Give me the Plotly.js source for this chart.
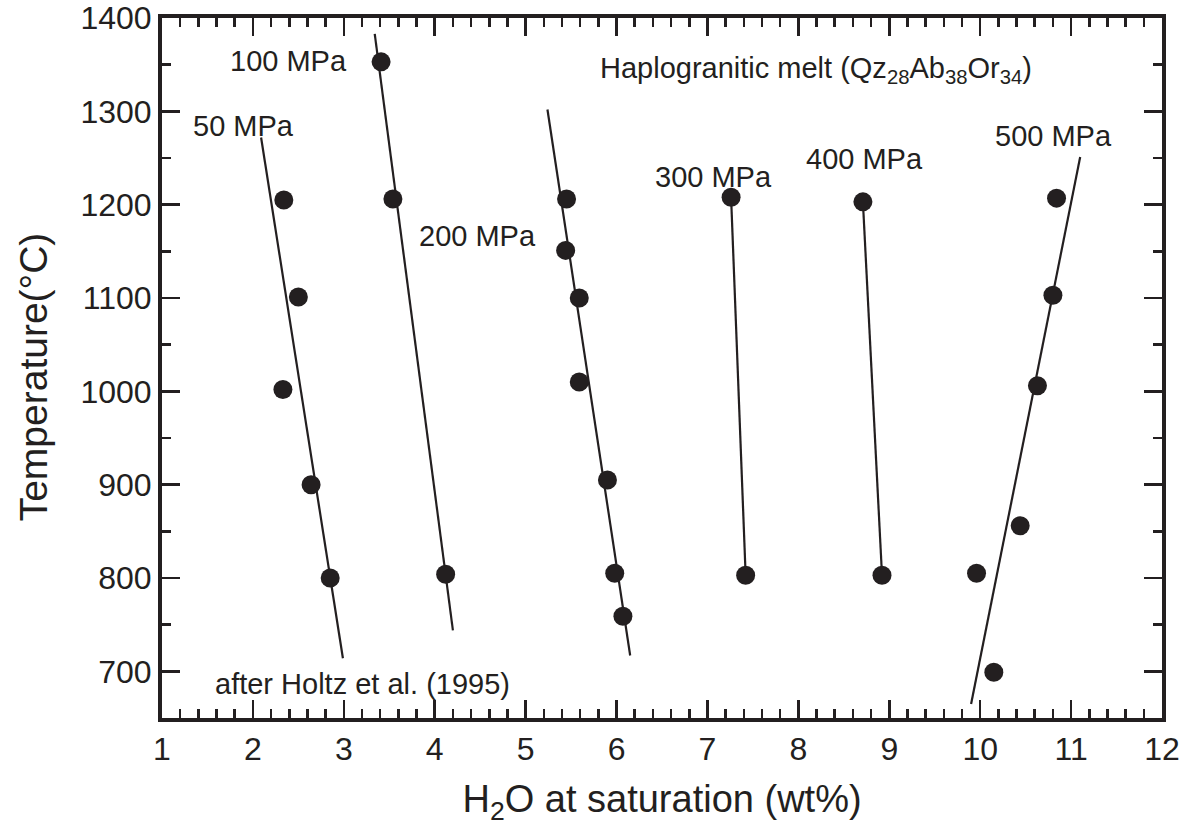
<!DOCTYPE html>
<html>
<head>
<meta charset="utf-8">
<script src="https://cdn.plot.ly/plotly-3.0.1.min.js"></script>
<style>html,body{margin:0;padding:0;background:#fff;}#chart{width:1185px;height:834px;}</style>
</head>
<body>
<div id="chart"></div>
<script>
// Experimental points: H2O at saturation (wt%) vs temperature (°C)
const p50_x  = [2.34, 2.50, 2.33, 2.64, 2.85];
const p50_t  = [1205, 1101, 1002, 900, 800];
const p100_x = [3.41, 3.54, 4.12];
const p100_t = [1353, 1206, 804];
const p200_x = [5.45, 5.44, 5.59, 5.59, 5.90, 5.98, 6.07];
const p200_t = [1206, 1151, 1100, 1010, 905, 805, 759];
const p300_x = [7.26, 7.42];
const p300_t = [1208, 803];
const p400_x = [8.71, 8.92];
const p400_t = [1203, 803];
const p500_x = [10.84, 10.80, 10.63, 10.44, 9.96, 10.15];
const p500_t = [1207, 1103, 1006, 856, 805, 699];

// Fitted trend lines (endpoints as drawn)
const fit50_x  = [2.09, 2.99];
const fit50_t  = [1272, 714];
const fit100_x = [3.34, 4.20];
const fit100_t = [1383, 744];
const fit200_x = [5.24, 6.15];
const fit200_t = [1302, 717];
const fit300_x = [7.26, 7.42];
const fit300_t = [1208, 803];
const fit400_x = [8.71, 8.92];
const fit400_t = [1203, 803];
const fit500_x = [9.90, 11.10];
const fit500_t = [665, 1251];

// Labels
const labels   = ["50 MPa", "100 MPa", "200 MPa", "300 MPa", "400 MPa", "500 MPa"];
const label_x  = [1.90, 2.39, 4.47, 7.07, 8.73, 10.81];
const label_t  = [1284, 1354, 1166, 1230, 1249, 1274];

const ink = "#231f20";
const FONT = "Liberation Sans, Arial, Helvetica, sans-serif";

const pts = [[p50_x,p50_t],[p100_x,p100_t],[p200_x,p200_t],[p300_x,p300_t],[p400_x,p400_t],[p500_x,p500_t]];
const fits = [[fit50_x,fit50_t],[fit100_x,fit100_t],[fit200_x,fit200_t],[fit300_x,fit300_t],[fit400_x,fit400_t],[fit500_x,fit500_t]];

const traces = [];
fits.forEach((f,i)=>traces.push({x:f[0], y:f[1], type:'scatter', mode:'lines', line:{color:ink, width:2.2}, name:labels[i]+' fit', showlegend:false, hoverinfo:'skip'}));
pts.forEach((p,i)=>traces.push({x:p[0], y:p[1], type:'scatter', mode:'markers', marker:{color:ink, size:19}, name:labels[i], showlegend:false}));

const annotations = labels.map((t,i)=>({x:label_x[i], y:label_t[i], xref:'x', yref:'y', text:t, showarrow:false, font:{family:FONT, size:29, color:ink}, xanchor:'center', yanchor:'middle'}));
annotations.push({x:5.797, y:1344, xref:'x', yref:'y', text:'Haplogranitic melt (Qz<sub>28</sub>Ab<sub>38</sub>Or<sub>34</sub>)', showarrow:false, font:{family:FONT, size:29, color:ink}, xanchor:'left', yanchor:'middle'});
annotations.push({x:1.561, y:686, xref:'x', yref:'y', text:'after Holtz et al. (1995)', showarrow:false, font:{family:FONT, size:29, color:ink}, xanchor:'left', yanchor:'middle'});
// y-axis title placed as rotated annotation for exact positioning
annotations.push({x:-0.129, y:1015, xref:'paper', yref:'y', text:'Temperature(°C)', textangle:-90, showarrow:false, font:{family:FONT, size:39, color:ink}, xanchor:'center', yanchor:'middle'});

const axisCommon = {
  showline:true, linecolor:ink, linewidth:4, mirror:'ticks',
  ticks:'inside', ticklen:18, tickwidth:2.5, tickcolor:ink,
  showgrid:false, zeroline:false,
  tickfont:{family:FONT, size:32, color:ink}
};

const layout = {
  width:1185, height:834,
  margin:{l:162, r:23, t:18, b:116},
  paper_bgcolor:'#fff', plot_bgcolor:'#fff',
  showlegend:false,
  xaxis:Object.assign({}, axisCommon, {
    range:[1,12], tick0:1, dtick:1,
    minor:{dtick:0.2, ticks:'inside', ticklen:9, tickwidth:2.5, tickcolor:ink},
    title:{text:'H<sub>2</sub>O at saturation (wt%)', font:{family:FONT, size:38, color:ink}, standoff:20}
  }),
  yaxis:Object.assign({}, axisCommon, {
    range:[650,1400], tick0:700, dtick:100,
    minor:{dtick:50, ticks:'inside', ticklen:9, tickwidth:2.5, tickcolor:ink}
  }),
  annotations:annotations
};

Plotly.newPlot('chart', traces, layout, {displayModeBar:false, staticPlot:true});
</script>
</body>
</html>
